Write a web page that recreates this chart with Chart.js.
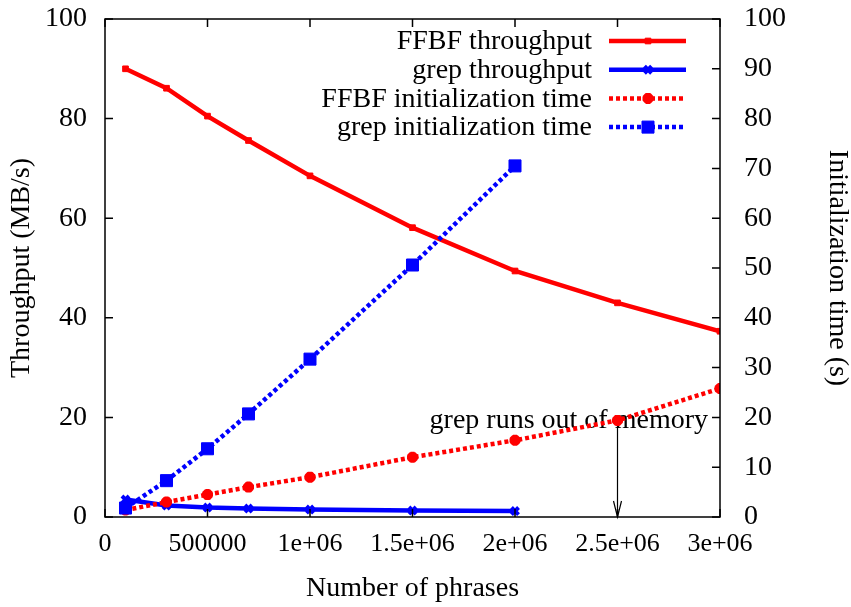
<!DOCTYPE html>
<html>
<head>
<meta charset="utf-8">
<script src="https://cdn.jsdelivr.net/npm/chart.js@4"></script>
<style>
    body { margin: 0; background: #fff; }
</style>
</head>
<body>
<canvas id="chart" width="851" height="607"></canvas>
<script>
// number of phrases (x)
const phrases = [100000, 300000, 500000, 700000, 1000000, 1500000, 2000000, 2500000, 3000000];
// left axis, MB/s
const ffbfThroughput = [90.0, 86.1, 80.5, 75.6, 68.5, 58.1, 49.4, 43.0, 37.3];
const grepThroughput = [3.5, 2.3, 1.9, 1.7, 1.5, 1.3, 1.2];
// right axis, seconds
const ffbfInit = [1.4, 3.0, 4.5, 6.0, 8.0, 12.0, 15.4, 19.4, 25.8];
const grepInit = [1.8, 7.3, 13.7, 20.7, 31.7, 50.6, 70.5];
// annotation
const noteText = "grep runs out of memory";
const noteX = 2500000;
const noteFrom = 19.2;
const noteTo = 0;

const FONT = "'Liberation Serif', 'Times New Roman', serif";
const RED = "#ff0000";
const BLUE = "#0000ff";

function points(ys) {
    return ys.map((y, i) => ({x: phrases[i], y: y}));
}

function gnuFmt(v) {
    if (v >= 1000000) return (v / 1000000) + "e+06";
    return String(v);
}

function fitY(width) {
    return s => {
        s.width = width;
        s.paddingTop = 19;
        s.paddingBottom = 0;
    };
}

// gnuplot style frame, inward ticks, legend and the arrow note
const gnuplotLook = {
    id: "gnuplotLook",
    beforeDatasetsDraw(chart) {
        const ctx = chart.ctx;
        const x = chart.scales.x, y2 = chart.scales.y2;
        const px = x.getPixelForValue(noteX);
        const top = y2.getPixelForValue(noteFrom);
        const bot = y2.getPixelForValue(noteTo);
        ctx.save();
        ctx.fillStyle = "#000";
        ctx.font = "28px " + FONT;
        ctx.textAlign = "right";
        ctx.textBaseline = "alphabetic";
        ctx.fillText(noteText, 708, 428);
        ctx.strokeStyle = "#000";
        ctx.lineWidth = 1.2;
        ctx.beginPath();
        ctx.moveTo(px, top);
        ctx.lineTo(px, bot);
        ctx.moveTo(px - 4, bot - 16);
        ctx.lineTo(px, bot);
        ctx.lineTo(px + 4, bot - 16);
        ctx.stroke();
        ctx.restore();
    },
    afterDatasetsDraw(chart) {
        const ctx = chart.ctx;
        const a = chart.chartArea;
        const {x, y, y2} = chart.scales;
        ctx.save();
        ctx.strokeStyle = "#000";
        ctx.lineWidth = 1.5;
        ctx.strokeRect(a.left, a.top, a.right - a.left, a.bottom - a.top);
        ctx.beginPath();
        x.ticks.forEach(t => {
            const p = x.getPixelForValue(t.value);
            ctx.moveTo(p, a.bottom); ctx.lineTo(p, a.bottom - 8);
            ctx.moveTo(p, a.top); ctx.lineTo(p, a.top + 8);
        });
        y.ticks.forEach(t => {
            const p = y.getPixelForValue(t.value);
            ctx.moveTo(a.left, p); ctx.lineTo(a.left + 8, p);
        });
        y2.ticks.forEach(t => {
            const p = y2.getPixelForValue(t.value);
            ctx.moveTo(a.right, p); ctx.lineTo(a.right - 8, p);
        });
        ctx.stroke();

        // legend
        ctx.font = "28px " + FONT;
        ctx.textAlign = "right";
        ctx.textBaseline = "middle";
        chart.data.datasets.forEach((ds, i) => {
            const ly = 41 + i * 28.7;
            ctx.fillStyle = "#000";
            ctx.fillText(ds.label, 592, ly + 1);
            ctx.strokeStyle = ds.borderColor;
            ctx.fillStyle = ds.backgroundColor;
            ctx.lineWidth = ds.borderWidth;
            ctx.setLineDash(ds.borderDash || []);
            ctx.beginPath();
            ctx.moveTo(609, ly);
            ctx.lineTo(686, ly);
            ctx.stroke();
            ctx.setLineDash([]);
            ctx.lineWidth = ds.pointBorderWidth || 1;
            Chart.helpers.drawPoint(ctx, {
                pointStyle: ds.pointStyle,
                radius: ds.pointRadius,
                borderWidth: ds.pointBorderWidth || 1
            }, 648, ly);
        });
        ctx.restore();
    }
};

const ctx = document.getElementById("chart");
const chart = new Chart(ctx, {
    type: "line",
    data: {
        datasets: [{
            label: "FFBF throughput",
            data: points(ffbfThroughput),
            yAxisID: "y",
            borderColor: RED,
            backgroundColor: RED,
            borderWidth: 4.5,
            pointStyle: "rect",
            pointRadius: 4,
            pointBorderWidth: 1,
            order: 4
        }, {
            label: "grep throughput",
            data: points(grepThroughput),
            yAxisID: "y",
            borderColor: BLUE,
            backgroundColor: BLUE,
            borderWidth: 4.5,
            pointStyle: "crossRot",
            pointRadius: 5,
            pointBorderWidth: 4,
            order: 3
        }, {
            label: "FFBF initialization time",
            data: points(ffbfInit),
            yAxisID: "y2",
            borderColor: RED,
            backgroundColor: RED,
            borderWidth: 4.5,
            borderDash: [4, 3],
            pointStyle: "star",
            pointRadius: 5.5,
            pointBorderWidth: 4,
            order: 2
        }, {
            label: "grep initialization time",
            data: points(grepInit),
            yAxisID: "y2",
            borderColor: BLUE,
            backgroundColor: BLUE,
            borderWidth: 4.5,
            borderDash: [4, 3],
            pointStyle: "rect",
            pointRadius: 8.5,
            pointBorderWidth: 1,
            order: 1
        }]
    },
    options: {
        responsive: false,
        devicePixelRatio: 1,
        animation: false,
        layout: {padding: {top: 0, left: 0, right: 0, bottom: 0}},
        elements: {line: {tension: 0}},
        scales: {
            x: {
                type: "linear",
                min: 0,
                max: 3000000,
                afterFit: s => { s.height = 90; },
                grid: {drawOnChartArea: false, drawTicks: false},
                border: {display: false},
                ticks: {
                    stepSize: 500000,
                    padding: 12,
                    maxRotation: 0,
                    autoSkip: false,
                    color: "#000",
                    font: {family: FONT, size: 26},
                    callback: v => gnuFmt(v)
                },
                title: {
                    display: true,
                    text: "Number of phrases",
                    color: "#000",
                    font: {family: FONT, size: 28},
                    padding: {top: 2, bottom: 2}
                }
            },
            y: {
                position: "left",
                min: 0,
                max: 100,
                afterFit: fitY(105),
                grid: {drawOnChartArea: false, drawTicks: false},
                border: {display: false},
                ticks: {
                    stepSize: 20,
                    padding: 18,
                    color: "#000",
                    font: {family: FONT, size: 28}
                },
                title: {
                    display: true,
                    text: "Throughput (MB/s)",
                    color: "#000",
                    font: {family: FONT, size: 28},
                    padding: {top: 5, bottom: 4}
                }
            },
            y2: {
                position: "right",
                min: 0,
                max: 100,
                afterFit: fitY(131),
                grid: {drawOnChartArea: false, drawTicks: false},
                border: {display: false},
                ticks: {
                    stepSize: 10,
                    padding: 24,
                    color: "#000",
                    font: {family: FONT, size: 28}
                },
                title: {
                    display: true,
                    text: "Initialization time (s)",
                    color: "#000",
                    font: {family: FONT, size: 28, lineHeight: 1},
                    padding: {top: 0, bottom: 4}
                }
            }
        },
        plugins: {
            legend: {display: false},
            tooltip: {enabled: false}
        }
    },
    plugins: [gnuplotLook]
});
</script>
</body>
</html>
